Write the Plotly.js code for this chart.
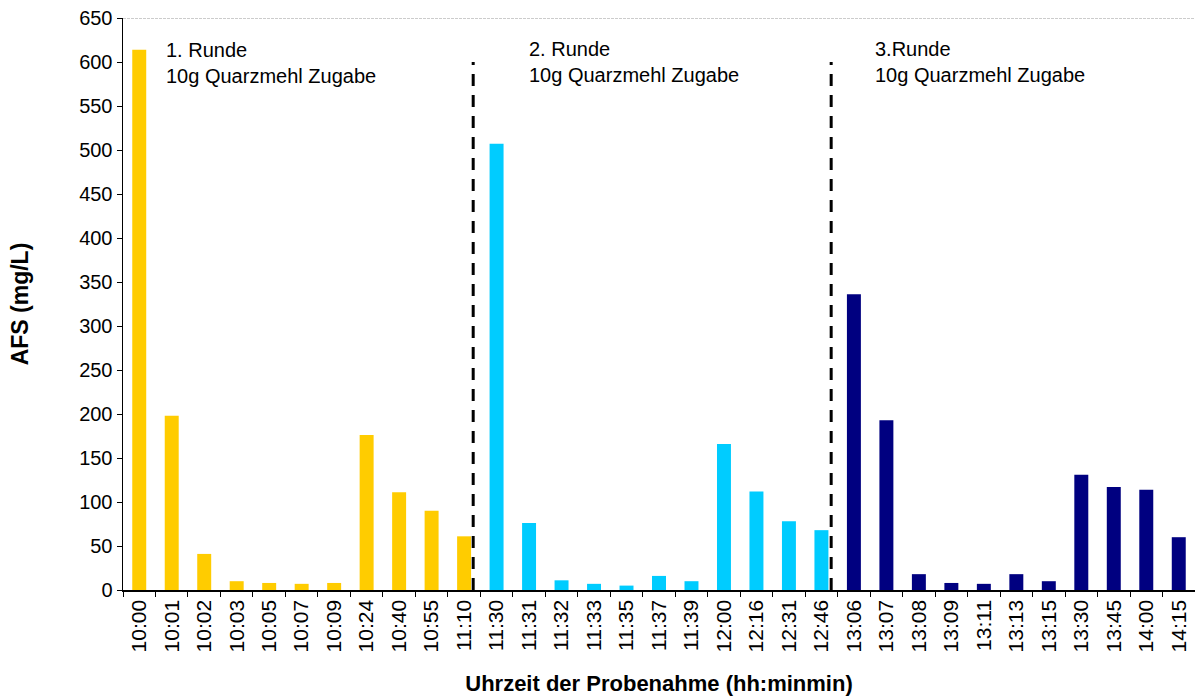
<!DOCTYPE html>
<html>
<head>
<meta charset="utf-8">
<script src="https://cdn.plot.ly/plotly-3.0.1.min.js"></script>
<style>html,body{margin:0;padding:0;background:#fff;}#chart{width:1195px;height:697px;}</style>
</head>
<body>
<div id="chart"></div>
<script>
const times1 = ["10:00","10:01","10:02","10:03","10:05","10:07","10:09","10:24","10:40","10:55","11:10"];
const values1 = [614,198,41,10,8,7,8,176,111,90,61];
const times2 = ["11:30","11:31","11:32","11:33","11:35","11:37","11:39","12:00","12:16","12:31","12:46"];
const values2 = [507,76,11,7,5,16,10,166,112,78,68];
const times3 = ["13:06","13:07","13:08","13:09","13:11","13:13","13:15","13:30","13:45","14:00","14:15"];
const values3 = [336,193,18,8,7,18,10,131,117,114,60];
const roundLabels = ["1. Runde<br>10g Quarzmehl Zugabe","2. Runde<br>10g Quarzmehl Zugabe","3.Runde<br>10g Quarzmehl Zugabe"];
const dividerHeight = 600;

const allTimes = times1.concat(times2, times3);
const font = "Liberation Sans, Arial, sans-serif";

function bar(x, y, color) {
  return {type: "bar", x: x, y: y, marker: {color: color, line: {width: 0}}, hoverinfo: "x+y", showlegend: false};
}
const data = [
  bar(times1, values1, "#FFCC00"),
  bar(times2, values2, "#00CCFF"),
  bar(times3, values3, "#000080")
];

const d1 = times1.length - 1 + 0.28;
const d2 = times1.length + times2.length - 1 + 0.3;

const layout = {
  width: 1195, height: 697,
  margin: {l: 123, r: 0, t: 18, b: 107},
  paper_bgcolor: "#fff", plot_bgcolor: "#fff",
  font: {family: font, color: "#000", size: 20},
  barmode: "overlay",
  bargap: 0.57,
  xaxis: {
    type: "category", categoryorder: "array", categoryarray: allTimes,
    range: [-0.5, allTimes.length - 0.5],
    tickangle: -90, tickson: "boundaries", ticks: "outside", ticklen: 5, tickcolor: "#000",
    showline: true, linecolor: "#000", linewidth: 1.5, showgrid: false, zeroline: false,
    tickfont: {size: 21, family: font},
    title: {text: "<b>Uhrzeit der Probenahme (hh:minmin)</b>", font: {size: 22, family: font}, standoff: 24}
  },
  yaxis: {
    range: [0, 650], dtick: 50, tick0: 0,
    ticks: "outside", ticklen: 5, tickcolor: "#000",
    showline: true, linecolor: "#000", linewidth: 1.5, showgrid: false, zeroline: false,
    tickfont: {size: 20, family: font},
    title: {text: "<b>AFS (mg/L)</b>", font: {size: 23, family: font}, standoff: 44}
  },
  shapes: [
    {type: "line", xref: "paper", yref: "y", x0: 0, x1: 1, y0: 650, y1: 650, line: {color: "#999", width: 1, dash: "3px,1px"}},
    {type: "line", xref: "x", yref: "y", x0: d1, x1: d1, y0: 0, y1: dividerHeight, line: {color: "#000", width: 3, dash: "12px,9px"}},
    {type: "line", xref: "x", yref: "y", x0: d2, x1: d2, y0: 0, y1: dividerHeight, line: {color: "#000", width: 3, dash: "12px,9px"}}
  ],
  annotations: [
    {xref: "x", yref: "y", x: 0.75, y: 628, text: roundLabels[0], showarrow: false, xanchor: "left", yanchor: "top", align: "left", font: {size: 20, family: font}},
    {xref: "x", yref: "y", x: 11.93, y: 630, text: roundLabels[1], showarrow: false, xanchor: "left", yanchor: "top", align: "left", font: {size: 20, family: font}},
    {xref: "x", yref: "y", x: 22.6, y: 629, text: roundLabels[2], showarrow: false, xanchor: "left", yanchor: "top", align: "left", font: {size: 20, family: font}}
  ]
};

Plotly.newPlot("chart", data, layout, {displayModeBar: false, staticPlot: true});
</script>
</body>
</html>
